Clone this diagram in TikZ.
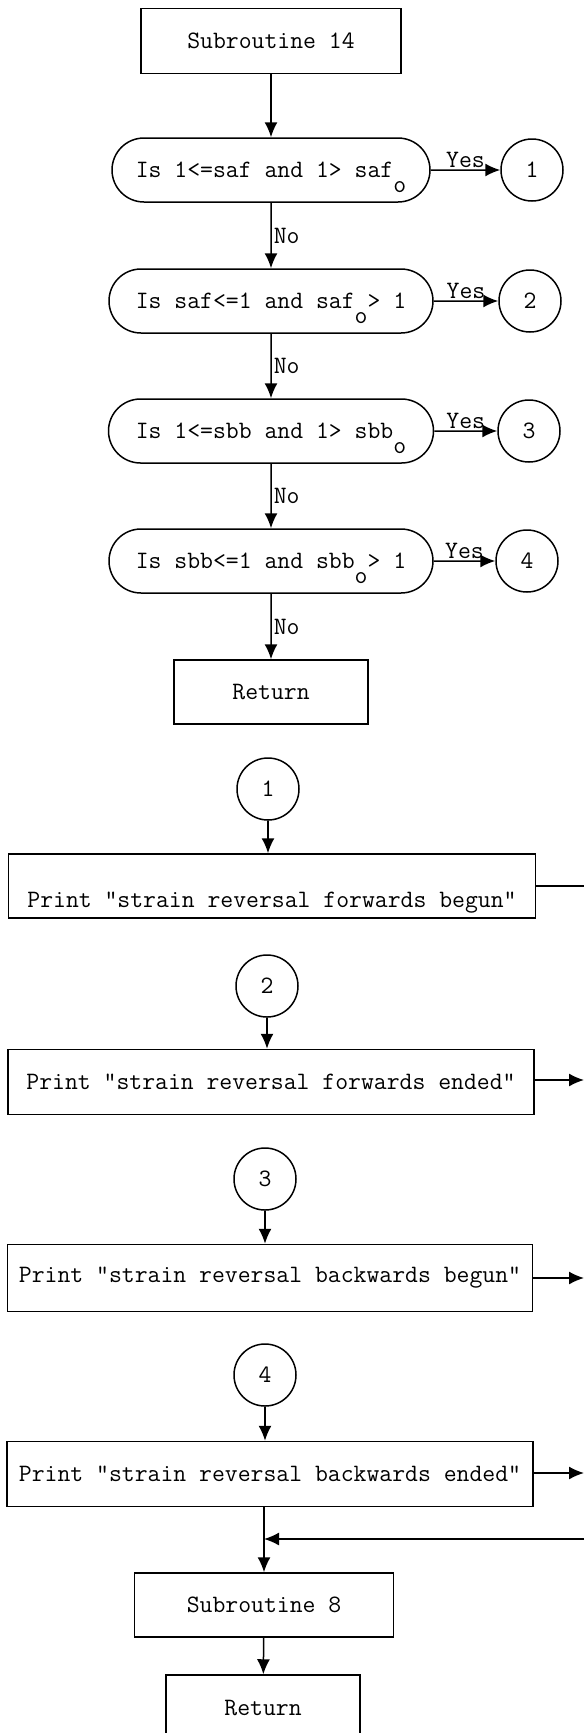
\documentclass[tikz,border=0pt]{standalone}
\usepackage{fontspec}
\usetikzlibrary{arrows.meta,shapes.misc}
\newcommand{\lowo}{\smash{\raisebox{-0.6em}{o}}}

\begin{document}
\begin{tikzpicture}[x=1pt,y=-1pt,>={Latex[length=15pt,width=13pt]},
    font=\ttfamily\fontsize{25}{30}\selectfont,line width=1.5pt,
    box/.style={draw,rectangle,inner sep=0pt},
    test/.style={draw,rounded rectangle,inner sep=0pt,minimum height=64pt},
    conn/.style={draw,circle,inner sep=0pt,minimum size=62pt},
    lab/.style={inner sep=2pt}]
    \def\cx{271} % x of the main column

    \useasboundingbox (0,0) rectangle (584,1733);

    %======================================================
    % Subroutine 14 and its tests
    %======================================================
    \node[box,minimum width=260pt,minimum height=65pt] (sub14) at (\cx,41) {Subroutine 14};

    % tests
    \node[test,minimum width=318pt] (q1) at (\cx,170) {Is 1<=saf and 1> saf\lowo};
    \node[test,minimum width=324pt] (q2) at (\cx,301) {Is saf<=1 and saf\lowo> 1};
    \node[test,minimum width=325pt] (q3) at (\cx,431) {Is 1<=sbb and 1> sbb\lowo};
    \node[test,minimum width=324pt] (q4) at (\cx,561) {Is sbb<=1 and sbb\lowo> 1};

    \node[box,minimum width=194pt,minimum height=64pt] (ret1) at (\cx,692) {Return};

    % connectors of the Yes branches
    \node[conn] (y1) at (532,170) {1};
    \node[conn] (y2) at (530,301) {2};
    \node[conn] (y3) at (529,431) {3};
    \node[conn] (y4) at (527,561) {4};

    \draw[->] (sub14) -- (q1);
    \draw[->] (q1) -- node[lab,right] {No} (q2);
    \draw[->] (q2) -- node[lab,right] {No} (q3);
    \draw[->] (q3) -- node[lab,right] {No} (q4);
    \draw[->] (q4) -- node[lab,right] {No} (ret1);

    \foreach \i in {1,2,3,4}{
        \draw[->] (q\i) -- node[lab,above] {Yes} (y\i);
    }

    %======================================================
    % the four messages
    %======================================================
    \node[conn] (c1) at (268,789) {1};
    \node[box,minimum width=527pt,minimum height=64pt]
        (p1) at (272,886) {\smash{\raisebox{-21pt}{Print "strain reversal forwards begun"}}};

    \node[conn] (c2) at (267,986) {2};
    \node[box,minimum width=526pt,minimum height=65pt]
        (p2) at (271,1082) {Print "strain reversal forwards ended"};

    \node[conn] (c3) at (265,1179) {3};
    \node[box,minimum width=525pt,minimum height=67pt]
        (p3) at (270,1278) {Print "strain reversal backwards begun"};

    \node[conn] (c4) at (265,1375) {4};
    \node[box,minimum width=526pt,minimum height=65pt]
        (p4) at (270,1474) {Print "strain reversal backwards ended"};

    \foreach \i in {1,2,3,4}{
        \draw[->] (c\i) -- (c\i |- p\i.north);
    }

    % lines leaving on the right
    \coordinate (e1) at (584,886);
    \coordinate (e2) at (584,1080);
    \coordinate (e3) at (584,1278);
    \coordinate (e4) at (584,1473);
    \draw (p1) -- (e1);
    \foreach \i in {2,3,4}{
        \draw[->] (p\i.east |- e\i) -- (e\i);
    }

    %======================================================
    % common end
    %======================================================
    \node[box,minimum width=259pt,minimum height=64pt] (sub8) at (264,1605) {Subroutine 8};
    \node[box,minimum width=194pt,minimum height=66pt] (ret2) at (263,1708) {Return};

    \coordinate (back) at (584,1539);
    \coordinate (join) at (sub8 |- back);

    \draw[->] (p4.south -| sub8) -- (sub8);
    \draw[->] (back) -- (join);
    \draw[->] (sub8) -- (ret2);
\end{tikzpicture}
\end{document}
